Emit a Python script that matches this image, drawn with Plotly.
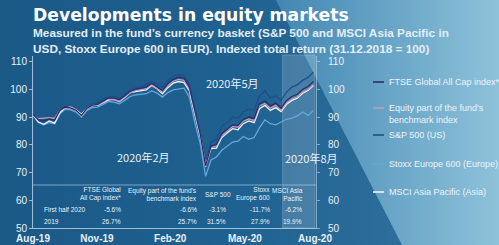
import base64
import pandas as pd
import plotly.graph_objects as go

W, H = 499, 245

# ---------------- data ----------------
dates = pd.date_range("2019-08-01", periods=53, freq="7D")

ftse = [91.0, 89.0, 88.5, 89.3, 88.8, 92.5, 93.6, 93.3, 92.4, 90.6, 93.2, 94.3, 94.6, 95.8,
        96.9, 96.8, 96.2, 97.6, 99.2, 100.0, 100.4, 100.8, 102.2, 101.0, 99.5, 102.0, 103.6,
        104.4, 104.0, 100.8, 92.0, 84.0, 72.5, 79.5, 80.0, 84.0, 85.6, 87.2, 87.0, 89.2, 90.0,
        89.5, 94.8, 95.8, 94.0, 95.0, 93.2, 96.0, 97.4, 98.2, 100.0, 101.0, 102.8]
equity = [90.6, 89.4, 89.6, 89.8, 89.5, 92.4, 93.3, 93.0, 92.2, 90.5, 92.9, 94.0, 94.3, 95.4,
          96.5, 96.4, 95.8, 97.2, 98.7, 99.5, 99.9, 100.2, 101.6, 100.4, 99.0, 101.4, 102.9,
          103.6, 103.2, 100.0, 91.5, 83.5, 72.0, 79.0, 79.6, 83.4, 85.0, 86.6, 86.3, 88.5, 89.3,
          88.7, 94.0, 94.9, 93.2, 94.2, 92.4, 95.1, 96.5, 97.2, 99.0, 99.9, 101.6]
sp500 = [91.3, 88.8, 88.6, 89.6, 89.2, 92.8, 93.8, 93.2, 92.8, 91.2, 93.6, 94.8, 95.2, 96.4,
         97.4, 97.3, 96.8, 98.2, 99.8, 100.5, 101.0, 101.6, 103.0, 102.0, 100.8, 103.0, 104.6,
         105.4, 105.0, 101.5, 92.4, 84.5, 73.5, 81.0, 82.0, 86.5, 88.0, 90.0, 89.6, 91.8, 92.8,
         92.4, 97.6, 99.5, 96.8, 97.6, 96.0, 99.0, 100.8, 101.6, 103.2, 104.3, 106.2]
stoxx = [91.0, 88.0, 87.2, 88.0, 87.6, 91.2, 92.8, 92.6, 91.8, 90.0, 92.4, 93.4, 93.6, 94.6,
         95.6, 95.4, 94.8, 96.0, 97.4, 98.0, 98.2, 98.4, 99.4, 98.6, 97.2, 98.8, 99.8, 100.2,
         100.4, 97.2, 88.0, 80.5, 68.6, 74.5, 75.6, 78.0, 79.6, 81.0, 81.3, 83.0, 82.0, 82.6,
         86.2, 89.0, 87.6, 87.2, 88.2, 89.2, 89.6, 90.4, 91.8, 90.6, 92.4]
msci = [90.8, 88.2, 87.4, 88.6, 87.8, 91.6, 93.4, 93.6, 92.6, 91.0, 93.2, 94.2, 94.2, 95.2,
        96.2, 96.4, 95.6, 97.0, 98.8, 99.2, 99.6, 99.8, 101.4, 100.2, 98.4, 100.6, 102.2,
        102.8, 102.4, 99.4, 91.0, 83.0, 72.8, 78.6, 78.8, 82.6, 84.2, 85.8, 85.4, 87.6, 88.6,
        88.0, 93.0, 94.2, 92.4, 93.4, 92.0, 94.6, 96.0, 96.8, 98.6, 99.6, 101.4]

series_names = ["FTSE Global All Cap index*", "Equity part of the fund's<br>benchmark index",
                "S&P 500 (US)", "Stoxx Europe 600 (Europe)", "MSCI Asia Pacific (Asia)"]
series_values = [ftse, equity, sp500, stoxx, msci]

x_ticks = ["2019-08-01", "2019-10-23", "2020-01-26", "2020-05-02", "2020-08-01"]
x_labels = ["Aug-19", "Nov-19", "Feb-20", "May-20", "Aug-20"]
y_ticks = [50, 60, 70, 80, 90, 100, 110]

highlight_start, highlight_end = "2020-06-20", "2020-08-01"

callouts = ["2020年2月", "2020年5月", "2020年8月"]

table_headers = ["FTSE Global<br>All Cap index*", "Equity part of the fund's<br>benchmark index",
                 "S&P 500", "Stoxx<br>Europe 600", "MSCI Asia<br>Pacific"]
table_rows = ["First half 2020", "2019"]
table_h1_2020 = ["-5.6%", "-6.6%", "-3.1%", "-11.7%", "-6.2%"]
table_2019 = ["26.7%", "25.7%", "31.5%", "27.9%", "19.9%"]

title = "Developments in equity markets"
subtitle1 = "Measured in the fund\u2019s currency basket (S&P 500 and MSCI Asia Pacific in"
subtitle2 = "USD, Stoxx Europe 600 in EUR). Indexed total return (31.12.2018 = 100)"

# ---------------- styling ----------------
colors = ["#2a2f6c", "#c79cb8", "#1d4f8c", "#62a8dc", "#eef4f8"]
draw_order = [3, 2, 4, 1, 0]
FONT = "Liberation Sans, Arial, sans-serif"
TXT = "#e9f1f7"


def px(x):
    return x / W


def py(y):
    return 1 - y / H


svg = f'''<svg xmlns="http://www.w3.org/2000/svg" width="{W}" height="{H}" viewBox="0 0 {W} {H}" preserveAspectRatio="none">
<defs>
<linearGradient id="g1" x1="0" y1="0" x2="1" y2="0">
<stop offset="0" stop-color="#1a5886"/><stop offset="0.55" stop-color="#4186b2"/><stop offset="1" stop-color="#8ec2da"/>
</linearGradient>
<linearGradient id="g2" x1="0" y1="0" x2="1" y2="0">
<stop offset="0" stop-color="#1b5987"/><stop offset="0.6" stop-color="#1f6190"/><stop offset="1" stop-color="#2d6e9b"/>
</linearGradient>
</defs>
<rect width="{W}" height="{H}" fill="url(#g1)"/>
<polygon points="0,0 276,0 402,{H} 0,{H}" fill="url(#g2)"/>
</svg>'''
bg_uri = "data:image/svg+xml;base64," + base64.b64encode(svg.encode()).decode()

fig = go.Figure()
for i in draw_order:
    fig.add_trace(go.Scatter(x=dates, y=series_values[i], mode="lines", name=series_names[i],
                             line=dict(color=colors[i], width=1.3), showlegend=False,
                             hoverinfo="skip"))
# invisible trace for the right axis
fig.add_trace(go.Scatter(x=[dates[0]], y=[ftse[0]], yaxis="y2", mode="markers",
                         marker=dict(opacity=0), showlegend=False, hoverinfo="skip"))

x_dom = [px(33), px(316)]
y_dom = [py(228), py(56)]
y_range = [50, 112]
AX = "rgba(190,215,235,0.8)"

fig.update_layout(
    width=W, height=H, margin=dict(l=0, r=0, t=0, b=0, autoexpand=False),
    paper_bgcolor="#1f5f8d", plot_bgcolor="rgba(0,0,0,0)",
    font=dict(family=FONT, color=TXT),
    images=[dict(source=bg_uri, xref="paper", yref="paper", x=0, y=1, sizex=1, sizey=1,
                 sizing="stretch", layer="below", xanchor="left", yanchor="top")],
    xaxis=dict(domain=x_dom, type="date", range=["2019-08-01", "2020-08-02 07:00"],
               tickvals=x_ticks, ticktext=x_labels, showgrid=False, zeroline=False,
               showline=True, linecolor=AX, linewidth=1, automargin=False,
               ticks="", tickfont=dict(size=10, color=TXT, family="Liberation Sans",
                                       weight="bold"),
               ticklabelstandoff=1),
    yaxis=dict(domain=y_dom, range=y_range, tickvals=y_ticks, showgrid=False, zeroline=False,
               showline=True, linecolor=AX, linewidth=1, automargin=False,
               ticks="outside", ticklen=3, tickcolor=AX,
               tickfont=dict(size=10, color=TXT)),
    yaxis2=dict(domain=y_dom, range=y_range, tickvals=y_ticks, overlaying="y", side="right",
                anchor="x", showgrid=False, zeroline=False, showline=True, automargin=False,
                linecolor="rgba(190,215,235,0.6)", linewidth=1, ticks="outside", ticklen=3,
                tickcolor="rgba(190,215,235,0.6)", tickfont=dict(size=10, color=TXT),
                ticklabelstandoff=6),
)

shapes = []
# highlighted period
shapes.append(dict(type="rect", xref="x", yref="paper", x0=highlight_start, x1=highlight_end,
                   y0=py(228), y1=py(55), fillcolor="rgba(255,255,255,0.16)",
                   line=dict(color="rgba(255,255,255,0.25)", width=0.8), layer="below"))
# table separator
shapes.append(dict(type="line", xref="paper", yref="paper", x0=px(33), x1=px(316),
                   y0=py(185), y1=py(185), line=dict(color="rgba(190,215,235,0.6)", width=1)))
# legend swatches
legend_y = [82, 108, 135, 164, 192]
for i in range(5):
    shapes.append(dict(type="line", xref="paper", yref="paper", x0=px(373), x1=px(384),
                       y0=py(legend_y[i]), y1=py(legend_y[i]),
                       line=dict(color=colors[i], width=1.6)))
fig.update_layout(shapes=shapes)

ann = []
ann.append(dict(text=f"<b>{title}</b>", x=px(31), y=py(15), xref="paper", yref="paper",
                xanchor="left", yanchor="middle", showarrow=False,
                font=dict(size=17.2, color="#ffffff", family="DejaVu Sans")))
ann.append(dict(text=f"<b>{subtitle1}</b>", x=px(31), y=py(33), xref="paper", yref="paper",
                xanchor="left", yanchor="middle", showarrow=False,
                font=dict(size=11.8, color="#e3edf5")))
ann.append(dict(text=f"<b>{subtitle2}</b>", x=px(31), y=py(49), xref="paper", yref="paper",
                xanchor="left", yanchor="middle", showarrow=False,
                font=dict(size=11.8, color="#e3edf5")))

# callouts
callout_pos = [(143, 157), (232, 83), (311, 158)]
for t, (cx, cy) in zip(callouts, callout_pos):
    ann.append(dict(text=t, x=px(cx), y=py(cy), xref="paper", yref="paper", showarrow=False,
                    xanchor="center", yanchor="middle",
                    font=dict(size=11, color=TXT, family="Noto Sans CJK SC")))

# legend texts
legend_text_y = [82, 113.5, 135, 164, 192]
for i in range(5):
    ann.append(dict(text=series_names[i], x=px(387), y=py(legend_text_y[i]), xref="paper",
                    yref="paper", xanchor="left", yanchor="middle", align="left",
                    showarrow=False, font=dict(size=9, color="#eef4f8")))

# table
col_right = [123, 199, 233, 272, 305]
val_right = [123, 199, 228, 272, 304]
for j in range(5):
    ann.append(dict(text=table_headers[j], x=px(col_right[j]), y=py(194), xref="paper",
                    yref="paper", xanchor="right", yanchor="middle", align="right",
                    showarrow=False, font=dict(size=6.5, color=TXT)))
    ann.append(dict(text=table_h1_2020[j], x=px(val_right[j]), y=py(209), xref="paper",
                    yref="paper", xanchor="right", yanchor="middle", showarrow=False,
                    font=dict(size=6.5, color=TXT)))
    ann.append(dict(text=table_2019[j], x=px(val_right[j]), y=py(221), xref="paper",
                    yref="paper", xanchor="right", yanchor="middle", showarrow=False,
                    font=dict(size=6.5, color=TXT)))
for r, ry in zip(table_rows, [209, 221]):
    ann.append(dict(text=r, x=px(42), y=py(ry), xref="paper", yref="paper", xanchor="left",
                    yanchor="middle", showarrow=False, font=dict(size=6.5, color=TXT)))

fig.update_layout(annotations=ann)
fig.write_html("out.html")
